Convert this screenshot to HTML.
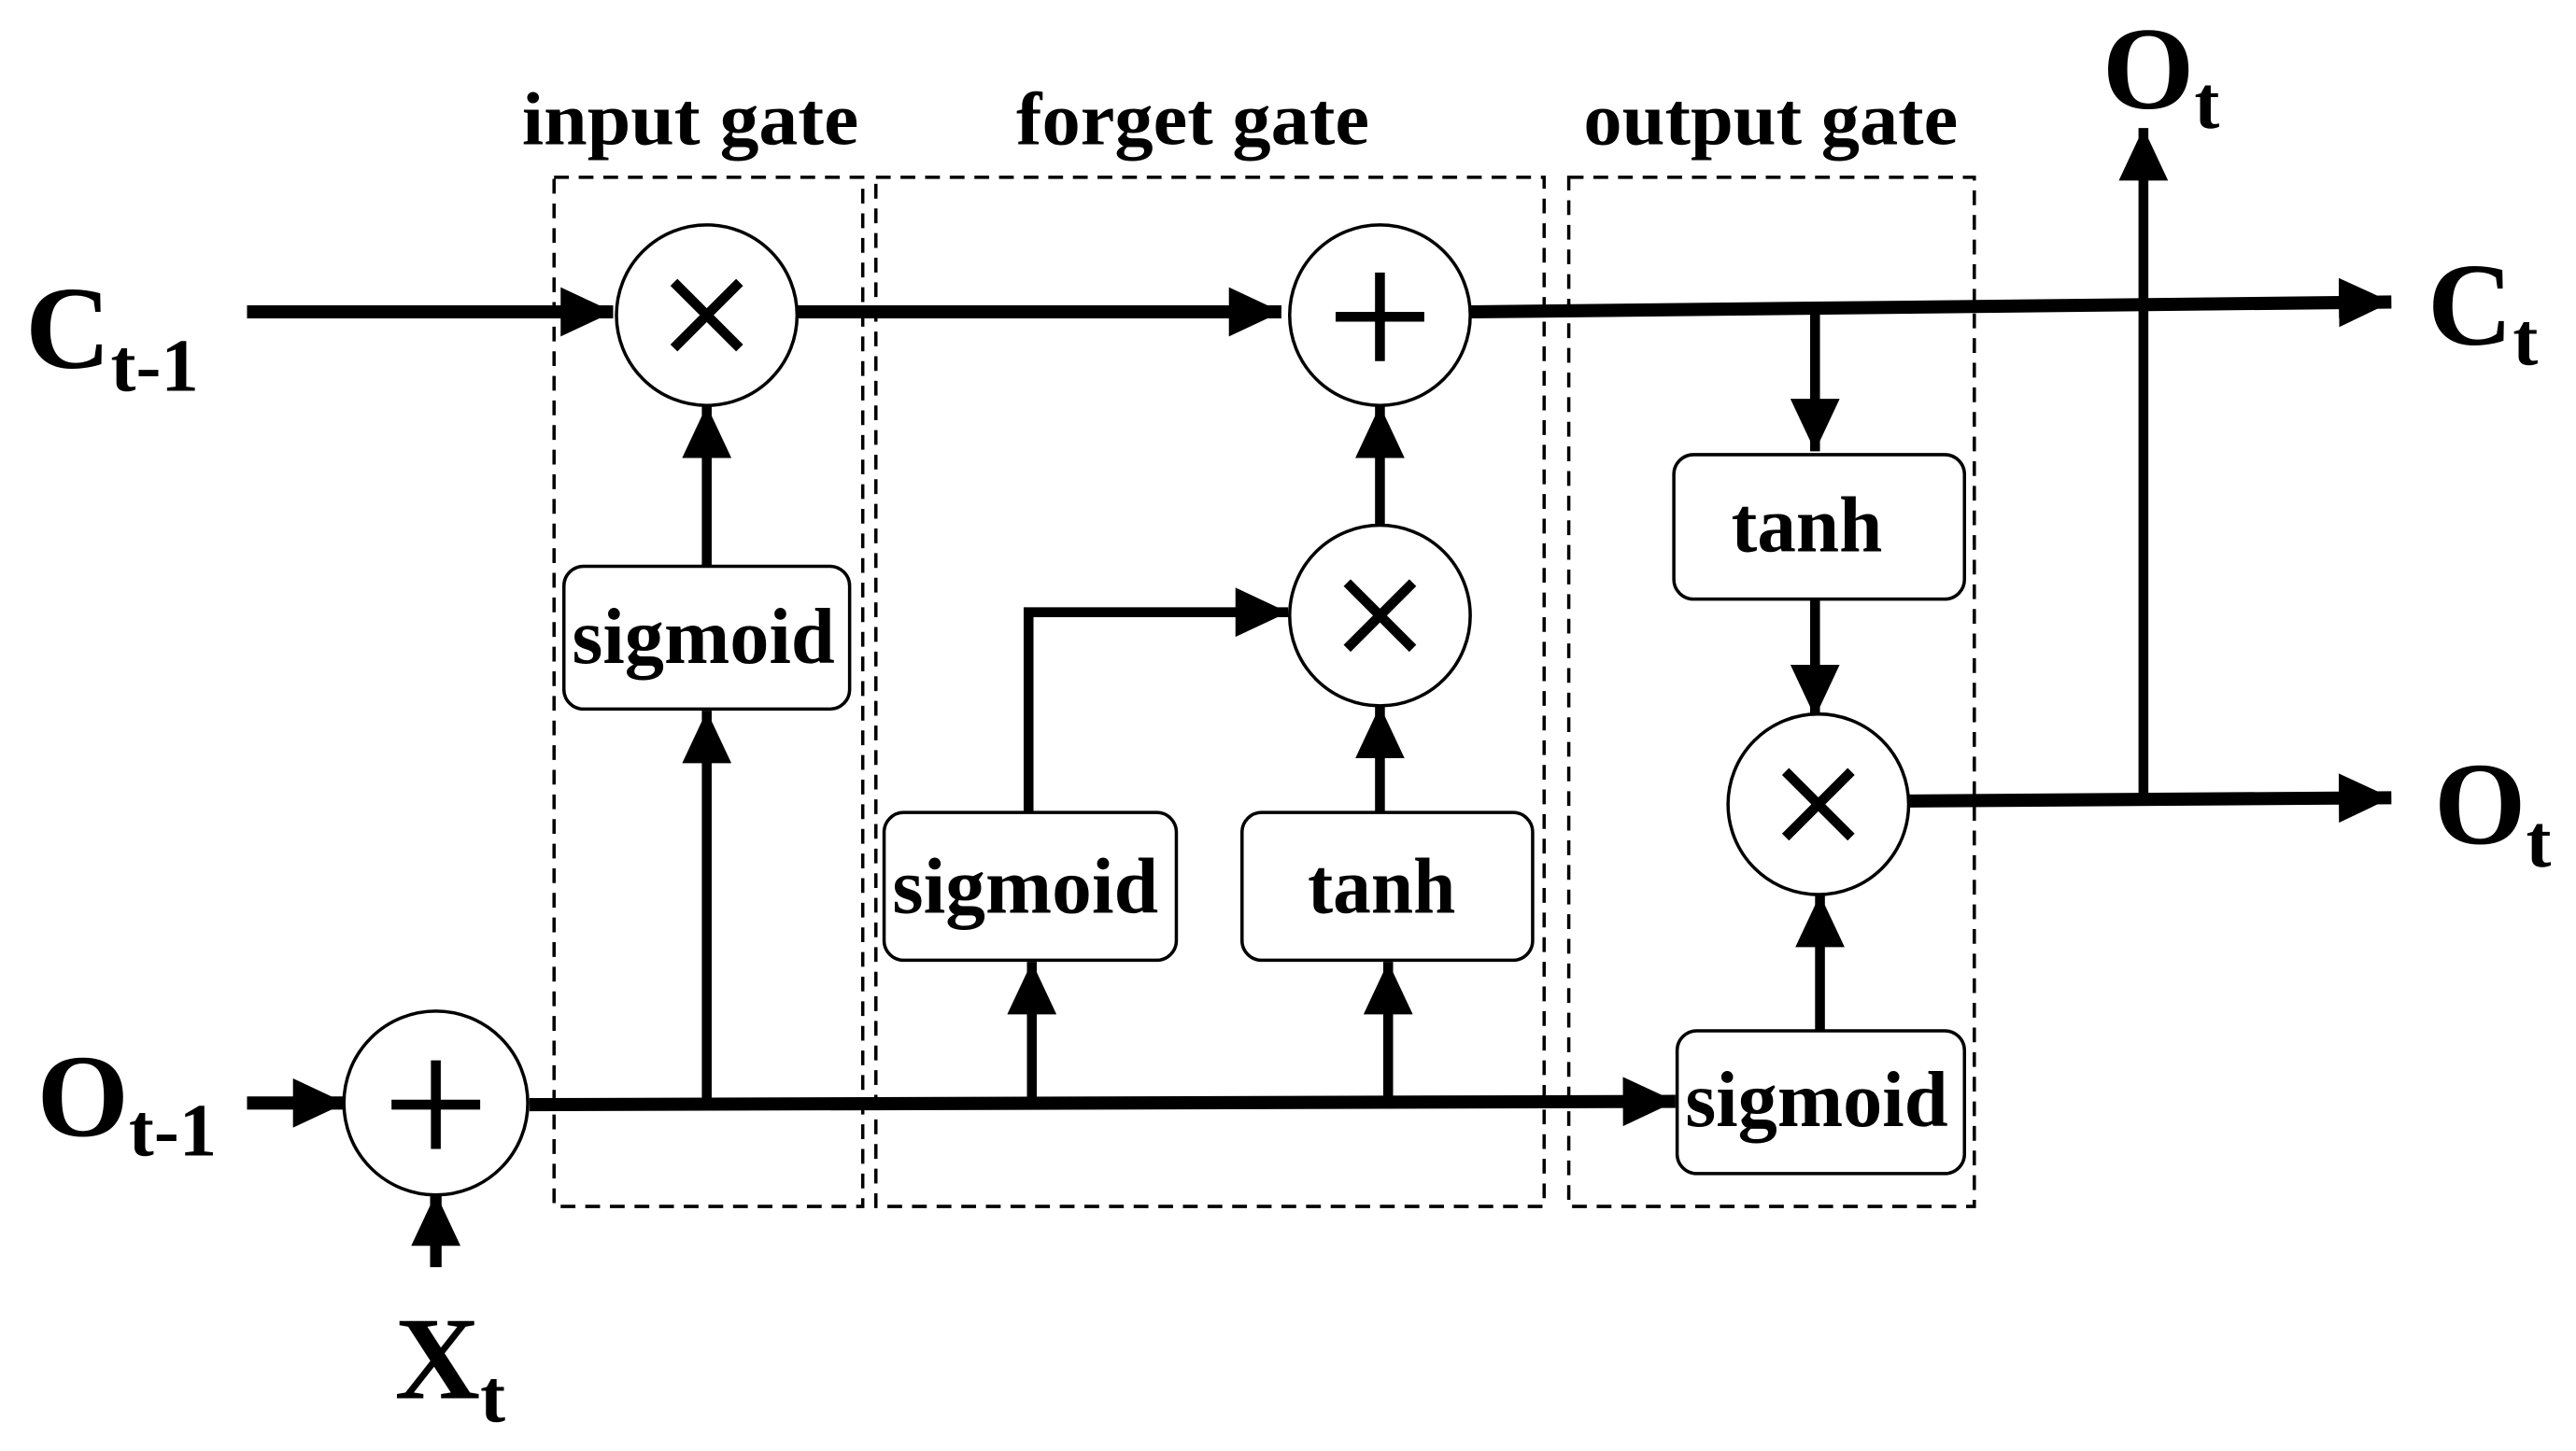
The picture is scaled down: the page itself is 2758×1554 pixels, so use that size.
<!DOCTYPE html>
<html><head><meta charset="utf-8"><style>
html,body{margin:0;padding:0;background:#fff;width:2758px;height:1554px;overflow:hidden}
svg{display:block}
text{font-family:"Liberation Serif",serif;font-weight:bold;fill:#000}
</style></head><body>
<svg width="2758" height="1554" viewBox="0 0 1568 884" xmlns="http://www.w3.org/2000/svg">
<defs>
<marker id="a" markerUnits="userSpaceOnUse" markerWidth="34" markerHeight="30" refX="32" refY="15" orient="auto">
<path d="M0,0 L32,15 L0,30 Z" fill="#000"/>
</marker>
</defs>
<g fill="none" stroke="#000" stroke-width="2" stroke-dasharray="9,6">
<rect x="337" y="108" width="188" height="627"/>
<rect x="533" y="108" width="407" height="627"/>
<rect x="955" y="108" width="247" height="627"/>
</g>
<text x="420" y="88" font-size="46" text-anchor="middle" textLength="205" lengthAdjust="spacingAndGlyphs">input gate</text>
<text x="726" y="88" font-size="46" text-anchor="middle" textLength="215" lengthAdjust="spacingAndGlyphs">forget gate</text>
<text x="1078" y="88" font-size="46" text-anchor="middle" textLength="228" lengthAdjust="spacingAndGlyphs">output gate</text>
<g stroke="#000" fill="none">
<line x1="150" y1="190" x2="373" y2="190" stroke-width="8" marker-end="url(#a)"/>
<line x1="485" y1="190" x2="780" y2="190" stroke-width="8" marker-end="url(#a)"/>
<line x1="895" y1="190" x2="1456" y2="184" stroke-width="8" marker-end="url(#a)"/>
<line x1="1105" y1="188" x2="1105" y2="275" stroke-width="6" marker-end="url(#a)"/>
<line x1="1105" y1="365" x2="1105" y2="437" stroke-width="6" marker-end="url(#a)"/>
<line x1="1162" y1="488" x2="1456" y2="486" stroke-width="8" marker-end="url(#a)"/>
<line x1="1305" y1="488" x2="1305" y2="78" stroke-width="6" marker-end="url(#a)"/>
<line x1="150" y1="672" x2="210" y2="672" stroke-width="8" marker-end="url(#a)"/>
<line x1="322" y1="673" x2="1020" y2="671" stroke-width="8" marker-end="url(#a)"/>
<line x1="430" y1="672" x2="430" y2="433" stroke-width="6" marker-end="url(#a)"/>
<line x1="430" y1="345" x2="430" y2="247" stroke-width="6" marker-end="url(#a)"/>
<line x1="628" y1="672" x2="628" y2="586" stroke-width="6" marker-end="url(#a)"/>
<polyline points="626,495 626,373 784,373" stroke-width="6" marker-end="url(#a)"/>
<line x1="845" y1="672" x2="845" y2="586" stroke-width="6" marker-end="url(#a)"/>
<line x1="840" y1="495" x2="840" y2="430" stroke-width="6" marker-end="url(#a)"/>
<line x1="840" y1="320" x2="840" y2="247" stroke-width="6" marker-end="url(#a)"/>
<line x1="1108" y1="628" x2="1108" y2="545" stroke-width="6" marker-end="url(#a)"/>
<line x1="265" y1="772" x2="265" y2="727" stroke-width="7" marker-end="url(#a)"/>
</g>
<g fill="#fff" stroke="#000" stroke-width="2">
<circle cx="430" cy="192" r="55"/>
<circle cx="840" cy="192" r="55"/>
<circle cx="840" cy="375" r="55"/>
<circle cx="1107" cy="490" r="55"/>
<circle cx="265" cy="672" r="56"/>
</g>
<g stroke="#000" stroke-width="6" fill="none">
<path d="M410,172 L450,212 M450,172 L410,212"/>
<path d="M820,355 L860,395 M860,355 L820,395"/>
<path d="M1087,470 L1127,510 M1127,470 L1087,510"/>
<path d="M840,166 L840,220 M813,193 L867,193"/>
<path d="M265,646 L265,700 M238,673 L292,673"/>
</g>
<g fill="#fff" stroke="#000" stroke-width="2">
<rect x="343" y="345" width="174" height="87" rx="12"/>
<rect x="538" y="495" width="178" height="90" rx="12"/>
<rect x="756" y="495" width="177" height="90" rx="12"/>
<rect x="1019" y="277" width="177" height="88" rx="12"/>
<rect x="1021" y="628" width="175" height="87" rx="12"/>
</g>
<g font-size="48" text-anchor="middle">
<text x="428" y="404" textLength="160" lengthAdjust="spacingAndGlyphs">sigmoid</text>
<text x="624" y="556" textLength="162" lengthAdjust="spacingAndGlyphs">sigmoid</text>
<text x="841" y="556" textLength="90" lengthAdjust="spacingAndGlyphs">tanh</text>
<text x="1100" y="336" textLength="92" lengthAdjust="spacingAndGlyphs">tanh</text>
<text x="1106" y="686" textLength="160" lengthAdjust="spacingAndGlyphs">sigmoid</text>
</g>
<text x="15" y="224" font-size="72">C<tspan font-size="46" dy="14">t-1</tspan></text>
<text x="22" y="692" font-size="72">O<tspan font-size="46" dy="12">t-1</tspan></text>
<text x="1478" y="210" font-size="72">C<tspan font-size="46" dy="12">t</tspan></text>
<text x="1482" y="514" font-size="72">O<tspan font-size="46" dy="14">t</tspan></text>
<text x="1280" y="66" font-size="72">O<tspan font-size="46" dy="12">t</tspan></text>
<text x="240" y="852" font-size="72">X<tspan font-size="46" dy="14">t</tspan></text>
</svg>
</body></html>
